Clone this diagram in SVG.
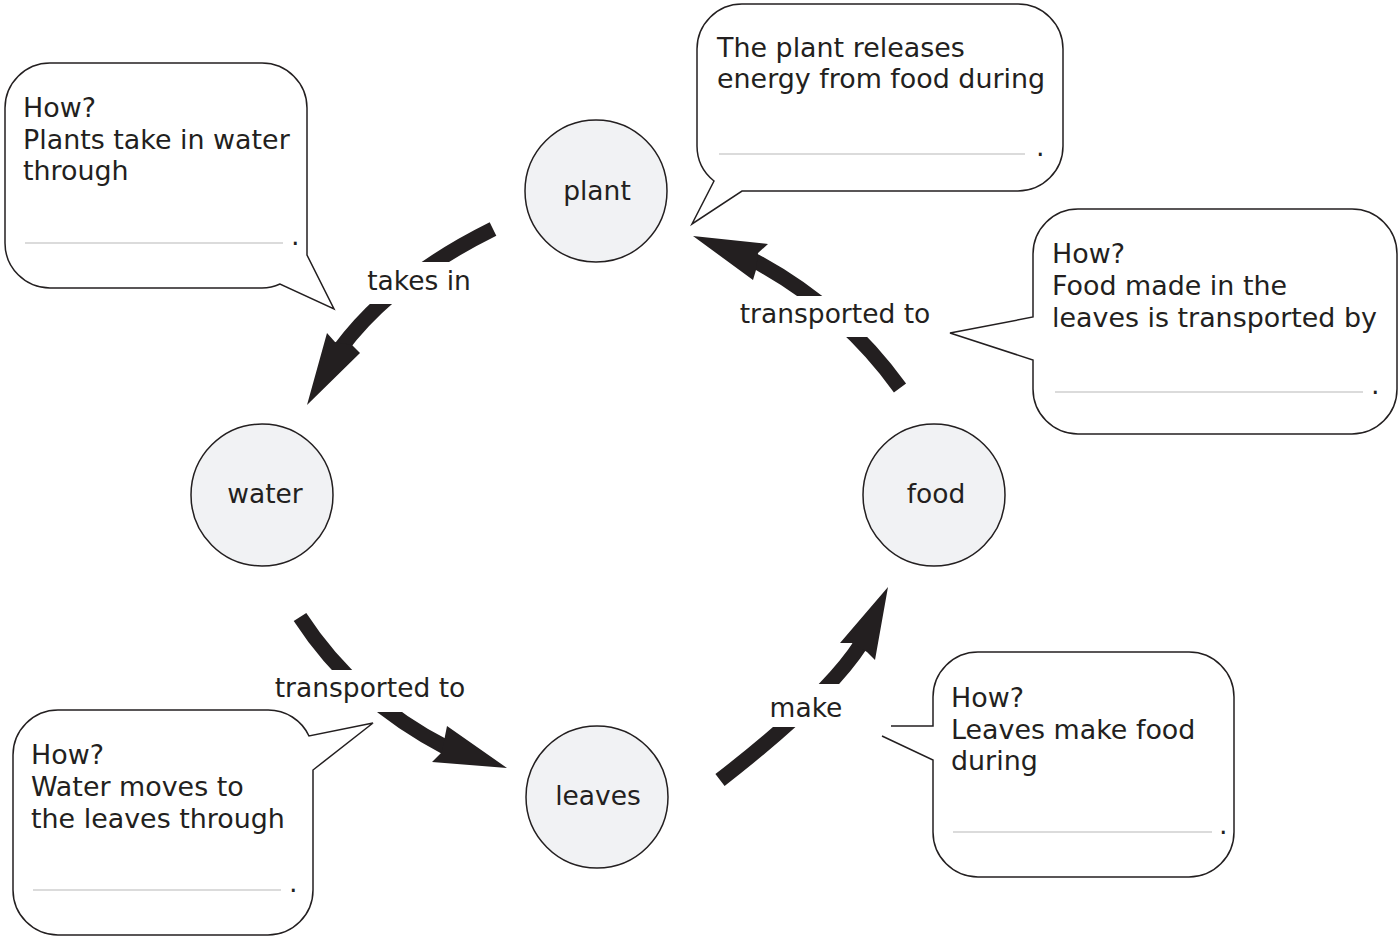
<svg xmlns="http://www.w3.org/2000/svg" width="1400" height="938" viewBox="0 0 1400 938">
  <style>
    .txt { font-family: "DejaVu Sans", Verdana, "Liberation Sans", sans-serif; font-size: 26.5px; fill: #231f20; }
    .note { font-size: 26.9px; }
    .mid { text-anchor: middle; }
    .node { fill: #f1f2f4; stroke: #231f20; stroke-width: 1.5; }
    .bubble { fill: #ffffff; stroke: #231f20; stroke-width: 1.5; stroke-linejoin: miter; }
    .blank { stroke: #cfcfcf; stroke-width: 1.5; }
    .body { fill: none; stroke: #231f20; stroke-width: 15; }
    .head { fill: #231f20; }
    .gap { fill: #ffffff; }
  </style>

  <rect width="1400" height="938" fill="#ffffff"/>

  <!-- cycle arrows -->
  <g id="connectors">
    <!-- plant -> water -->
    <path class="body" d="M 493,229 Q 392,279 340,349"/>
    <polygon class="head" points="307,405 327,333 335,342 352,345 360,353"/>
    <!-- water -> leaves -->
    <path class="body" d="M 300,617 Q 354,700 447,748"/>
    <polygon class="head" points="507,768 447,726 445,736 442,752 432,762"/>
    <!-- leaves -> food -->
    <path class="body" d="M 720,780 Q 827,697 861,644"/>
    <polygon class="head" points="888,587 875,660 867,652 852,643 840,643"/>
    <!-- food -> plant -->
    <path class="body" d="M 900,388 Q 841.5,307 753,260"/>
    <polygon class="head" points="693,236 768,244 758,253 756,270 753,280"/>

    <!-- arrow labels -->
    <rect class="gap" x="360" y="262" width="118" height="42"/>
    <text class="txt mid" x="419" y="290">takes in</text>
    <rect class="gap" x="265" y="670" width="210" height="42"/>
    <text class="txt mid" x="370" y="697">transported to</text>
    <rect class="gap" x="760" y="684" width="90" height="43"/>
    <text class="txt mid" x="806" y="717">make</text>
    <rect class="gap" x="730" y="296" width="210" height="41"/>
    <text class="txt mid" x="835" y="323">transported to</text>
  </g>

  <!-- nodes -->
  <g id="node-plant">
    <circle class="node" cx="596" cy="191" r="71"/>
    <text class="txt mid" x="597" y="200">plant</text>
  </g>
  <g id="node-water">
    <circle class="node" cx="262" cy="495" r="71"/>
    <text class="txt mid" x="265" y="503">water</text>
  </g>
  <g id="node-food">
    <circle class="node" cx="934" cy="495" r="71"/>
    <text class="txt mid" x="936" y="503">food</text>
  </g>
  <g id="node-leaves">
    <circle class="node" cx="597" cy="797" r="71"/>
    <text class="txt mid" x="598" y="805">leaves</text>
  </g>

  <!-- speech bubbles -->
  <g id="bubble-water-intake">
    <path class="bubble" d="M 50,63 H 262 A 45,45 0 0 1 307,108 V 255 L 334,309 L 280,284 A 45,45 0 0 1 262,288 H 50 A 45,45 0 0 1 5,243 V 108 A 45,45 0 0 1 50,63 Z"/>
    <text class="txt note" x="23" y="117">How?</text>
    <text class="txt note" x="23" y="149">Plants take in water</text>
    <text class="txt note" x="23" y="180">through</text>
    <line class="blank" x1="25" y1="243" x2="283" y2="243"/>
    <text class="txt note" x="291" y="245">.</text>
  </g>

  <g id="bubble-energy">
    <path class="bubble" d="M 742,4 H 1018 A 45,45 0 0 1 1063,49 V 146 A 45,45 0 0 1 1018,191 H 742 L 692,224 L 714,181 A 45,45 0 0 1 697,146 V 49 A 45,45 0 0 1 742,4 Z"/>
    <text class="txt note" x="717" y="57">The plant releases</text>
    <text class="txt note" x="717" y="88">energy from food during</text>
    <line class="blank" x1="719" y1="154" x2="1025" y2="154"/>
    <text class="txt note" x="1036" y="156">.</text>
  </g>

  <g id="bubble-food-transport">
    <path class="bubble" d="M 1078,209 H 1352 A 45,45 0 0 1 1397,254 V 389 A 45,45 0 0 1 1352,434 H 1078 A 45,45 0 0 1 1033,389 V 360 L 950,333 L 1033,317 V 254 A 45,45 0 0 1 1078,209 Z"/>
    <text class="txt note" x="1052" y="263">How?</text>
    <text class="txt note" x="1052" y="295">Food made in the</text>
    <text class="txt note" x="1052" y="327">leaves is transported by</text>
    <line class="blank" x1="1055" y1="392" x2="1363" y2="392"/>
    <text class="txt note" x="1371" y="394">.</text>
  </g>

  <g id="bubble-food-making">
    <path class="bubble" d="M 891,726 H 933 V 697 A 45,45 0 0 1 978,652 H 1189 A 45,45 0 0 1 1234,697 V 832 A 45,45 0 0 1 1189,877 H 978 A 45,45 0 0 1 933,832 V 760 L 882,736"/>
    <text class="txt note" x="951" y="707">How?</text>
    <text class="txt note" x="951" y="739">Leaves make food</text>
    <text class="txt note" x="951" y="770">during</text>
    <line class="blank" x1="953" y1="832" x2="1212" y2="832"/>
    <text class="txt note" x="1219" y="834">.</text>
  </g>

  <g id="bubble-water-transport">
    <path class="bubble" d="M 58,710 H 268 A 45,45 0 0 1 309,736 L 373,723 L 313,770 V 890 A 45,45 0 0 1 268,935 H 58 A 45,45 0 0 1 13,890 V 755 A 45,45 0 0 1 58,710 Z"/>
    <text class="txt note" x="31" y="764">How?</text>
    <text class="txt note" x="31" y="796">Water moves to</text>
    <text class="txt note" x="31" y="828">the leaves through</text>
    <line class="blank" x1="33" y1="890" x2="281" y2="890"/>
    <text class="txt note" x="289" y="892">.</text>
  </g>
</svg>
